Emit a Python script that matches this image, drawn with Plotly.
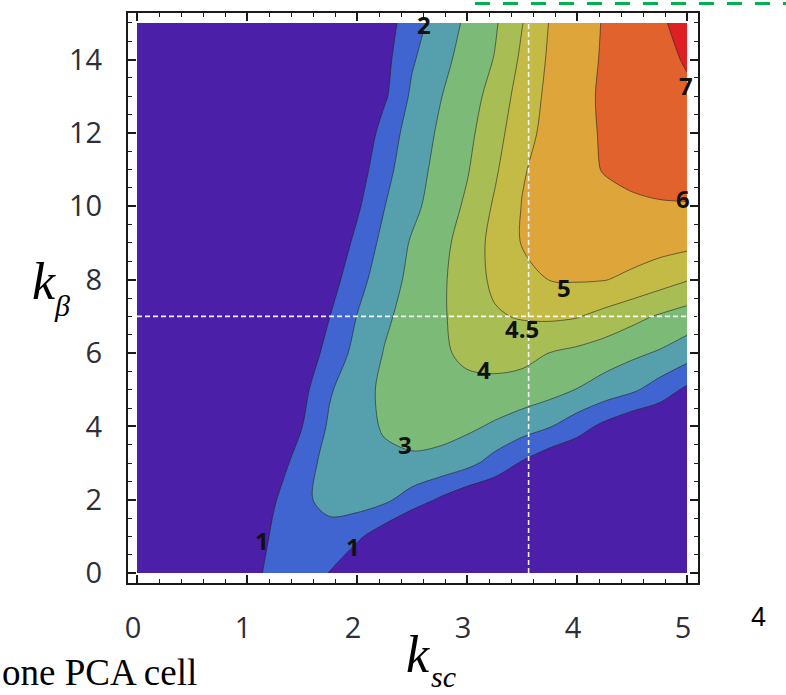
import numpy as np
import plotly.graph_objects as go

# ---------------- data ----------------
k_sc = [0, 0.5, 1.0, 1.25, 1.5, 1.75, 2.0, 2.25, 2.5, 2.75, 3.0, 3.25, 3.5, 3.75, 4.0, 4.25, 4.5, 4.75, 5.0]
k_beta = [0, 0.5, 1, 1.5, 2, 3, 4, 5, 6, 7, 8, 9, 10, 11, 12, 13, 14, 15]

# estimated surface value at (k_beta row, k_sc column)
value = [
    [0, 0, 0.44, 1.44, 1.50, 0.97, 0, 0, 0, 0, 0, 0, 0, 0, 0, 0, 0, 0, 0],
    [0, 0, 0.32, 1.32, 1.55, 1.50, 0.61, 0, 0, 0, 0, 0, 0, 0, 0, 0, 0, 0, 0],
    [0, 0, 0.20, 1.20, 1.60, 1.75, 1.20, 0.37, 0, 0, 0, 0, 0, 0, 0, 0, 0, 0, 0],
    [0, 0, 0.08, 1.08, 1.75, 1.97, 1.85, 1.30, 0.55, 0, 0, 0, 0, 0, 0, 0, 0, 0, 0],
    [0, 0, 0, 0.93, 1.80, 2.30, 2.35, 2.20, 1.54, 0.87, 0.25, 0, 0, 0, 0, 0, 0, 0, 0],
    [0, 0, 0, 0.44, 1.50, 2.40, 2.60, 2.78, 2.85, 2.70, 2.30, 1.62, 0.90, 0.26, 0, 0, 0, 0, 0],
    [0, 0, 0, 0, 0.98, 2.15, 2.62, 3.10, 3.30, 3.35, 3.20, 2.86, 2.46, 2.06, 1.43, 0.75, 0.17, 0, 0],
    [0, 0, 0, 0, 0.68, 1.90, 2.60, 3.20, 3.45, 3.60, 3.70, 3.72, 3.60, 3.35, 2.97, 2.57, 2.17, 1.55, 0.80],
    [0, 0, 0, 0, 0.32, 1.35, 2.31, 3.05, 3.42, 3.80, 4.12, 4.18, 4.15, 3.99, 3.77, 3.50, 3.20, 2.90, 2.47],
    [0, 0, 0, 0, 0, 0.98, 2.02, 2.83, 3.38, 3.87, 4.17, 4.45, 4.54, 4.58, 4.53, 4.35, 4.14, 3.90, 3.56],
    [0, 0, 0, 0, 0, 0.56, 1.64, 2.55, 3.24, 3.80, 4.26, 4.59, 4.82, 5.02, 5.07, 5.03, 4.91, 4.72, 4.53],
    [0, 0, 0, 0, 0, 0.20, 1.24, 2.30, 3.10, 3.69, 4.21, 4.65, 5.05, 5.25, 5.35, 5.38, 5.42, 5.38, 5.27],
    [0, 0, 0, 0, 0, 0, 0.84, 1.98, 2.76, 3.45, 4.08, 4.56, 5.03, 5.30, 5.52, 5.72, 5.87, 5.95, 5.96],
    [0, 0, 0, 0, 0, 0, 0.48, 1.70, 2.59, 3.28, 3.92, 4.42, 4.96, 5.34, 5.71, 6.05, 6.20, 6.22, 6.26],
    [0, 0, 0, 0, 0, 0, 0, 1.45, 2.41, 3.13, 3.75, 4.30, 4.83, 5.29, 5.72, 6.10, 6.35, 6.50, 6.56],
    [0, 0, 0, 0, 0, 0, 0, 0.84, 2.18, 2.94, 3.58, 4.17, 4.72, 5.23, 5.70, 6.15, 6.45, 6.68, 6.85],
    [0, 0, 0, 0, 0, 0, 0, 0.68, 1.89, 2.68, 3.37, 4.02, 4.59, 5.14, 5.64, 6.10, 6.45, 6.75, 7.08],
    [0, 0, 0, 0, 0, 0, 0, 0.52, 1.57, 2.44, 3.17, 3.86, 4.48, 5.04, 5.56, 6.07, 6.40, 6.88, 7.30],
]

levels = [1, 2, 3, 4, 4.5, 5, 6, 7]
band_colors = ["#4B1FA7", "#4064D0", "#56A0AE", "#7CBA78", "#A8BE54",
               "#C4BA46", "#DEA53A", "#E2622E", "#DE2024"]

label_text = ["1", "1", "2", "3", "4", "4.5", "5", "6", "7"]
label_x = [1.14, 1.96, 2.61, 2.44, 3.15, 3.50, 3.88, 4.96, 4.99]
label_y = [0.90, 0.73, 14.97, 3.50, 5.54, 6.68, 7.80, 10.20, 13.30]

marker_ksc = 3.56
marker_kbeta = 7.0

x_ticks = [0, 1, 2, 3, 4, 5]
y_ticks = [0, 2, 4, 6, 8, 10, 12, 14]

# ---------------- figure ----------------
W, H = 786, 695
ML, MR, MT, MB = 128, 88, 11, 112
PW, PH = W - ML - MR, H - MT - MB

def px2paper(px, py):
    return (px - ML) / PW, (H - MB - py) / PH

# map the non-uniform levels onto equally spaced indices so one contour trace can draw them
z = np.array(value, dtype=float)
lev_ext = [0] + levels + [8]
z_idx = np.interp(z, lev_ext, np.arange(len(lev_ext)))

n = len(band_colors) - 1
colorscale = [[i / n, c] for i, c in enumerate(band_colors)]

fig = go.Figure()
fig.add_trace(go.Contour(
    x=k_sc, y=k_beta, z=z_idx,
    autocontour=False,
    contours=dict(start=1, end=len(levels), size=1, coloring="fill", showlines=True),
    colorscale=colorscale, zmin=0.5, zmax=len(levels) + 0.5,
    line=dict(color="rgba(35,35,35,0.6)", width=1, smoothing=0.9),
    showscale=False, hoverinfo="skip",
))

shapes = [
    dict(type="line", xref="x", yref="y", x0=marker_ksc, x1=marker_ksc, y0=0, y1=15.27,
         line=dict(color="rgba(255,255,255,0.92)", width=1.6, dash="5px,3px")),
    dict(type="line", xref="x", yref="y", x0=0, x1=5.1, y0=marker_kbeta, y1=marker_kbeta,
         line=dict(color="rgba(255,255,255,0.92)", width=1.6, dash="5px,3px")),
]
gx0, gy0 = px2paper(475, 1.5)
gx1, _ = px2paper(792, 1.5)
shapes.append(dict(type="line", xref="paper", yref="paper", x0=gx0, x1=gx1, y0=gy0, y1=gy0,
                   line=dict(color="#00B050", width=3, dash="15px,13px")))

annotations = []
for t, xv, yv in zip(label_text, label_x, label_y):
    annotations.append(dict(x=xv, y=yv, xref="x", yref="y", text=t, showarrow=False,
                            font=dict(family="Open Sans", size=24, color="#111", weight="bold")))

def add_text(px, py, text, size, family, italic=False, color="black", xanchor="center"):
    ax, ay = px2paper(px, py)
    annotations.append(dict(x=ax, y=ay, xref="paper", yref="paper", text=text, showarrow=False,
                            xanchor=xanchor, yanchor="middle",
                            font=dict(family=family, size=size, color=color,
                                      style="italic" if italic else "normal")))

serif = "Liberation Serif"
add_text(44, 280, "k", 52, serif, italic=True)
add_text(62, 305, "β", 30, serif, italic=True)
add_text(418, 655, "k", 52, serif, italic=True)
add_text(444, 677, "sc", 30, serif, italic=True)
add_text(0, 673, "one PCA cell", 37, serif, xanchor="left")
add_text(758, 617, "4", 27, "Liberation Sans")

tickfont = dict(family="Open Sans", size=29, color="#2e2e38")
axis_common = dict(
    showline=True, linecolor="#1a1a1a", linewidth=2, mirror="allticks",
    ticks="inside", ticklen=8, tickwidth=1.5, tickcolor="#1a1a1a",
    showgrid=False, zeroline=False, tickfont=tickfont,
)

fig.update_layout(
    width=W, height=H,
    margin=dict(l=ML, r=MR, t=MT, b=MB, pad=0),
    paper_bgcolor="white", plot_bgcolor="white",
    showlegend=False,
    shapes=shapes, annotations=annotations,
    xaxis=dict(range=[-0.082, 5.1], tickvals=x_ticks, ticklabelstandoff=18, ticklabelshift=-4,
               minor=dict(dtick=0.2, ticks="inside", ticklen=4, tickwidth=1, tickcolor="#1a1a1a"),
               **axis_common),
    yaxis=dict(range=[-0.27, 15.27], tickvals=y_ticks, ticklabelstandoff=18,
               minor=dict(dtick=0.5, ticks="inside", ticklen=4, tickwidth=1, tickcolor="#1a1a1a"),
               **axis_common),
)

fig.write_html("out.html")
